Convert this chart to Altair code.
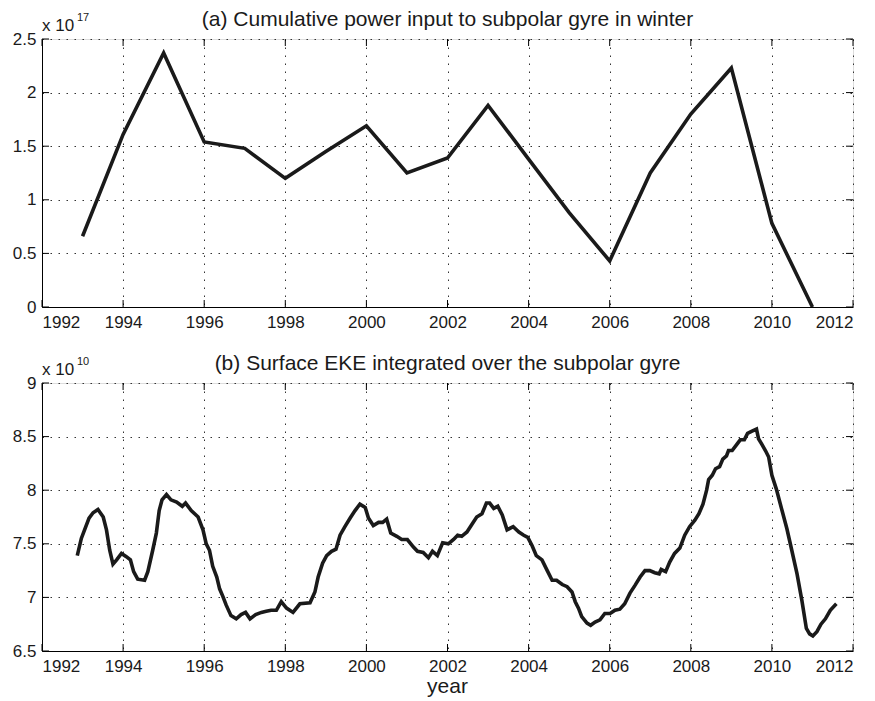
import altair as alt
import pandas as pd

FONT = "Liberation Sans"
INK = "#1a1a1a"

# ---------------- Panel (a): cumulative power input (x 1e17) ----------------
years_a = [1993, 1994, 1995, 1996, 1997, 1998, 1999, 2000, 2001, 2002,
           2003, 2004, 2005, 2006, 2007, 2008, 2009, 2010, 2011]
power_a = [0.66, 1.61, 2.37, 1.54, 1.48, 1.20, 1.45, 1.69, 1.25, 1.39,
           1.88, 1.38, 0.88, 0.43, 1.25, 1.80, 2.23, 0.78, 0.00]

# ---------------- Panel (b): surface EKE (x 1e10) ----------------
time_b = [1992.87, 1992.97, 1993.05, 1993.16, 1993.26, 1993.38, 1993.51, 1993.59, 1993.67, 1993.75,
          1993.84, 1993.96, 1994.08, 1994.18, 1994.26, 1994.36, 1994.53, 1994.61, 1994.73, 1994.82,
          1994.89, 1994.96, 1995.07, 1995.18, 1995.32, 1995.46, 1995.54, 1995.68, 1995.85, 1995.97,
          1996.05, 1996.13, 1996.21, 1996.31, 1996.38, 1996.46, 1996.54, 1996.66, 1996.79, 1996.91,
          1997.02, 1997.13, 1997.27, 1997.41, 1997.53, 1997.65, 1997.78, 1997.90, 1998.03, 1998.19,
          1998.36, 1998.61, 1998.73, 1998.81, 1998.92, 1999.02, 1999.14, 1999.25, 1999.35, 1999.47,
          1999.60, 1999.72, 1999.84, 1999.97, 2000.05, 2000.17, 2000.30, 2000.40, 2000.50, 2000.60,
          2000.75, 2000.87, 2001.01, 2001.16, 2001.26, 2001.40, 2001.53, 2001.63, 2001.75, 2001.88,
          2002.02, 2002.15, 2002.25, 2002.35, 2002.48, 2002.60, 2002.72, 2002.85, 2002.96, 2003.04,
          2003.14, 2003.24, 2003.35, 2003.47, 2003.62, 2003.76, 2003.88, 2003.98, 2004.09, 2004.19,
          2004.33, 2004.46, 2004.58, 2004.69, 2004.83, 2004.95, 2005.07, 2005.15, 2005.23, 2005.31,
          2005.44, 2005.53, 2005.64, 2005.76, 2005.88, 2006.01, 2006.13, 2006.25, 2006.37, 2006.50,
          2006.62, 2006.75, 2006.87, 2006.99, 2007.11, 2007.22, 2007.27, 2007.38, 2007.48, 2007.60,
          2007.73, 2007.85, 2007.97, 2008.10, 2008.20, 2008.30, 2008.39, 2008.44, 2008.53, 2008.61,
          2008.71, 2008.79, 2008.88, 2008.93, 2009.02, 2009.14, 2009.22, 2009.32, 2009.40, 2009.51,
          2009.62, 2009.67, 2009.75, 2009.84, 2009.92, 2010.00, 2010.11, 2010.25, 2010.37, 2010.49,
          2010.62, 2010.74, 2010.85, 2010.93, 2011.01, 2011.11, 2011.21, 2011.32, 2011.44, 2011.59]
eke_b = [7.39, 7.55, 7.63, 7.74, 7.79, 7.82, 7.75, 7.63, 7.44, 7.31,
         7.35, 7.41, 7.38, 7.35, 7.24, 7.17, 7.16, 7.24, 7.44, 7.60,
         7.81, 7.91, 7.96, 7.91, 7.89, 7.85, 7.88, 7.81, 7.75, 7.63,
         7.50, 7.44, 7.29, 7.19, 7.08, 7.01, 6.93, 6.83, 6.80, 6.84,
         6.86, 6.80, 6.84, 6.86, 6.87, 6.88, 6.88, 6.96, 6.90, 6.86,
         6.94, 6.95, 7.05, 7.19, 7.32, 7.39, 7.43, 7.45, 7.58, 7.66,
         7.74, 7.81, 7.87, 7.84, 7.74, 7.67, 7.70, 7.70, 7.73, 7.60,
         7.57, 7.54, 7.54, 7.47, 7.43, 7.42, 7.37, 7.43, 7.39, 7.51,
         7.50, 7.54, 7.58, 7.57, 7.61, 7.68, 7.75, 7.78, 7.88, 7.88,
         7.83, 7.85, 7.77, 7.63, 7.66, 7.61, 7.58, 7.56, 7.48, 7.39,
         7.35, 7.25, 7.16, 7.16, 7.12, 7.10, 7.05, 6.96, 6.90, 6.82,
         6.76, 6.74, 6.77, 6.79, 6.85, 6.85, 6.88, 6.89, 6.94, 7.04,
         7.11, 7.19, 7.25, 7.25, 7.23, 7.22, 7.26, 7.24, 7.33, 7.41,
         7.46, 7.58, 7.66, 7.72, 7.78, 7.87, 8.00, 8.10, 8.14, 8.20,
         8.22, 8.29, 8.32, 8.37, 8.37, 8.43, 8.47, 8.47, 8.53, 8.55,
         8.57, 8.48, 8.43, 8.37, 8.31, 8.14, 8.01, 7.81, 7.64, 7.44,
         7.22, 6.97, 6.71, 6.66, 6.64, 6.68, 6.75, 6.80, 6.88, 6.94]

# tick values / labels
x_ticks = [1992, 1994, 1996, 1998, 2000, 2002, 2004, 2006, 2008, 2010, 2012]
y_ticks_a = [0, 0.5, 1, 1.5, 2, 2.5]
y_ticks_b = [6.5, 7, 7.5, 8, 8.5, 9]

title_a = "(a) Cumulative power input to subpolar gyre in winter"
title_b = "(b) Surface EKE integrated over the subpolar gyre"
xlabel = "year"

W, H = 811, 268
TICK = 7

df_a = pd.DataFrame({"year": years_a, "value": power_a})
df_b = pd.DataFrame({"year": time_b, "value": eke_b})
df_xt = pd.DataFrame({"t": x_ticks})

GRID = dict(grid=True, gridColor="#333333", gridDash=[1.5, 6.5], gridWidth=1)


def axis_x():
    return alt.Axis(values=x_ticks, format="d", title=None, labelFont=FONT,
                    labelFontSize=17, labelColor=INK, ticks=False, tickSize=0,
                    labelPadding=7, domainColor="black", domainWidth=1, **GRID)


def axis_y(vals):
    return alt.Axis(values=vals, format="~g", title=None, labelFont=FONT,
                    labelFontSize=17, labelColor=INK, ticks=False, tickSize=0,
                    labelPadding=6, domainColor="black", domainWidth=1, **GRID)


def txt(s, size, x, y, align="left"):
    return alt.Chart(pd.DataFrame({"s": [s]})).mark_text(
        font=FONT, fontSize=size, align=align, baseline="alphabetic", color=INK
    ).encode(text="s:N", x=alt.value(x), y=alt.value(y))


def panel(df, ydom, yvals, title, exponent, xtitle=None):
    xs = alt.Scale(domain=[1992, 2012], nice=False, zero=False)
    ys = alt.Scale(domain=ydom, nice=False, zero=False)
    line = alt.Chart(df).mark_line(color=INK, strokeWidth=3.6, clip=True).encode(
        x=alt.X("year:Q", scale=xs, axis=axis_x()),
        y=alt.Y("value:Q", scale=ys, axis=axis_y(yvals)),
    )
    # inward ticks (MATLAB style) on all four sides
    xt_bot = alt.Chart(df_xt).mark_rule(color="black", strokeWidth=1).encode(
        x=alt.X("t:Q", scale=xs), y=alt.value(H), y2=alt.value(H - TICK))
    xt_top = alt.Chart(df_xt).mark_rule(color="black", strokeWidth=1).encode(
        x=alt.X("t:Q", scale=xs), y=alt.value(0), y2=alt.value(TICK))
    df_yt = pd.DataFrame({"t": yvals})
    yt_l = alt.Chart(df_yt).mark_rule(color="black", strokeWidth=1).encode(
        y=alt.Y("t:Q", scale=ys), x=alt.value(0), x2=alt.value(TICK))
    yt_r = alt.Chart(df_yt).mark_rule(color="black", strokeWidth=1).encode(
        y=alt.Y("t:Q", scale=ys), x=alt.value(W), x2=alt.value(W - TICK))
    layers = [line, xt_bot, xt_top, yt_l, yt_r,
              txt("x 10", 17, 0, -8), txt(exponent, 11, 35, -18),
              txt(title, 21, W / 2, -13, align="center")]
    if xtitle:
        layers.append(txt(xtitle, 21, W / 2, H + 42, align="center"))
    return alt.layer(*layers).properties(width=W, height=H)


top = panel(df_a, [0, 2.5], y_ticks_a, title_a, "17")
bot = panel(df_b, [6.5, 9], y_ticks_b, title_b, "10", xtitle=xlabel)

chart = alt.vconcat(top, bot, spacing=21).configure_view(
    stroke="black", strokeWidth=1
).configure(background="white", padding={"left": 3, "top": 0, "right": 0, "bottom": 0})

chart.save("out.html", embed_options={"renderer": "svg", "actions": False})
